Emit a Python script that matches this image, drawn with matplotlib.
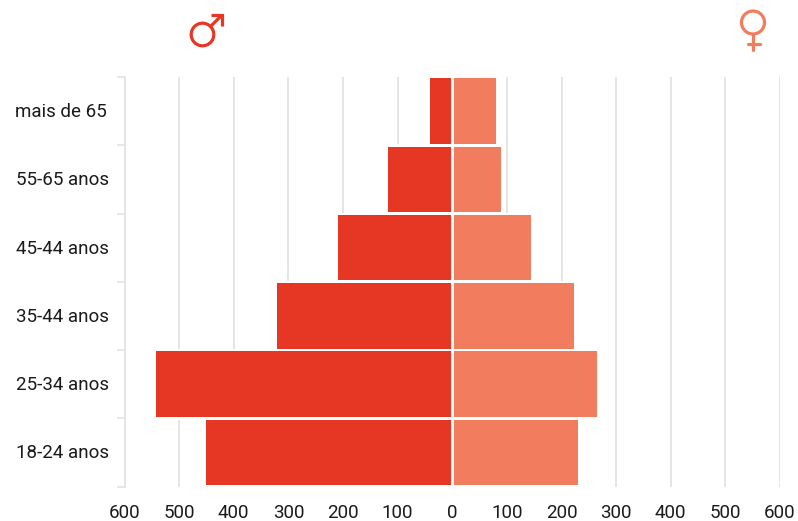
import numpy as np
import matplotlib
matplotlib.use("Agg")
import matplotlib.pyplot as plt
from matplotlib.patches import Circle
from matplotlib.transforms import ScaledTranslation

plt.rcParams["font.family"] = ["Roboto", "DejaVu Sans"]

faixas = ["18-24 anos", "25-34 anos", "35-44 anos", "45-44 anos", "55-65 anos", "mais de 65"]
homens = [450, 542, 320, 209, 117, 40]
mulheres = [231, 265, 223, 145, 90, 80]
ticks_x = [-600, -500, -400, -300, -200, -100, 0, 100, 200, 300, 400, 500, 600]

cor_h = "#E63624"
cor_m = "#F27D5E"
cinza = "#E3E3E3"

W, H = 798, 521
fig = plt.figure(figsize=(W / 100, H / 100), dpi=100)
ax = fig.add_axes([124.5 / W, 1 - 486.5 / H, (780 - 124.5) / W, (486.5 - 77) / H])

y = np.arange(len(faixas))
ax.set_axisbelow(True)
ax.grid(axis="x", color=cinza, lw=1.3)
# faixa branca por baixo corta a grade perto das barras
ax.barh(y, [-v for v in homens], height=1, color="white", edgecolor="white", lw=2, zorder=2)
ax.barh(y, mulheres, height=1, color="white", edgecolor="white", lw=2, zorder=2)
ax.barh(y, [-v for v in homens], height=0.96, color=cor_h, zorder=3)
ax.barh(y, mulheres, height=0.96, color=cor_m, zorder=3)
ax.axvline(0, color="white", lw=2, zorder=4)

ax.set_xlim(-600, 600)
ax.set_ylim(-0.5, 5.5)
ax.set_xticks(ticks_x)
ax.set_xticklabels([str(abs(t)) for t in ticks_x], fontsize=13.5, color="#1a1a1a")
ax.tick_params(axis="x", length=0, pad=12.5)

ax.set_yticks(y)
ax.set_yticklabels(faixas, fontsize=13.5, color="#1a1a1a", va="center")
ax.set_yticks(np.arange(-0.5, 6, 1), minor=True)
ax.tick_params(axis="y", which="major", length=0, pad=11.5)
ax.tick_params(axis="y", which="minor", length=6, width=1.2, color=cinza)

# ajuste fino dos rotulos em pixels
for t, nome in zip(ax.get_yticklabels(), faixas):
    dx = -2 if nome == "mais de 65" else 0
    t.set_transform(t.get_transform() + ScaledTranslation(dx / 100, -1 / 100, fig.dpi_scale_trans))

for lado in ["top", "right", "bottom"]:
    ax.spines[lado].set_visible(False)
ax.spines["left"].set_color(cinza)
ax.spines["left"].set_linewidth(1.3)

# simbolos no topo, em pixels da figura
ic = fig.add_axes([0, 0, 1, 1], facecolor="none")
ic.set_xlim(0, W)
ic.set_ylim(H, 0)
ic.axis("off")
ic.add_patch(Circle((202.5, 34.5), 11.3, fill=False, ec=cor_h, lw=2.3))
ic.plot([211, 222], [26, 15], color=cor_h, lw=2.3, solid_capstyle="butt")
ic.plot([211, 222.3, 222.3], [15, 15, 25.5], color=cor_h, lw=2.3, solid_joinstyle="miter", solid_capstyle="butt")
ic.add_patch(Circle((753, 22.5), 11.5, fill=False, ec=cor_m, lw=2.3))
ic.plot([753, 753], [34, 50], color=cor_m, lw=2.3, solid_capstyle="round")
ic.plot([747.5, 760], [44, 44], color=cor_m, lw=2.3, solid_capstyle="round")

fig.savefig("out.png", dpi=100)
